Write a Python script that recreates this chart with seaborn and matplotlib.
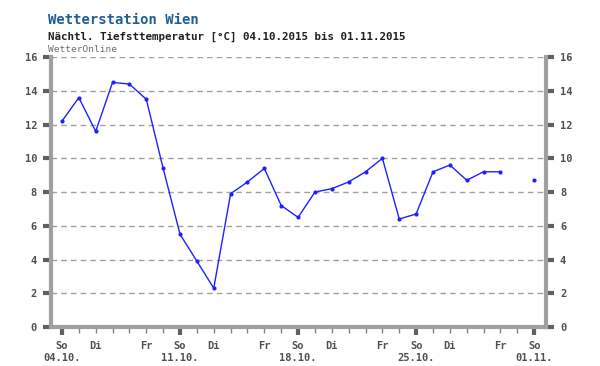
import numpy as np
import pandas as pd
import matplotlib
matplotlib.use("Agg")
import matplotlib.pyplot as plt
import seaborn as sns

# Nightly minimum temperature, Wien, 04.10.2015 - 01.11.2015 (day 27 missing)
days = list(range(29))
temps = [12.2, 13.6, 11.6, 14.5, 14.4, 13.5, 9.4,
         5.5, 3.9, 2.3, 7.9, 8.6, 9.4, 7.2,
         6.5, 8.0, 8.2, 8.6, 9.2, 10.0, 6.4,
         6.7, 9.2, 9.6, 8.7, 9.2, 9.2, np.nan,
         8.7]
weekday_labels = {2: "Di", 5: "Fr", 9: "Di", 12: "Fr", 16: "Di", 19: "Fr",
                  23: "Di", 26: "Fr"}
sunday_days = [0, 7, 14, 21, 28]
sunday_labels = ["So\n04.10.", "So\n11.10.", "So\n18.10.", "So\n25.10.", "So\n01.11."]
y_ticks = list(range(0, 17, 2))

title = "Wetterstation Wien"
subtitle = "Nächtl. Tiefsttemperatur [°C] 04.10.2015 bis 01.11.2015"
source = "WetterOnline"

# -----------------------------
# DATA FRAME (split at the gap)
# -----------------------------
df = pd.DataFrame({"day": days, "temp": temps})
df["seg"] = df["temp"].isna().cumsum()
df = df.dropna()

sns.set_style("white")
plt.rcParams["font.family"] = ["DejaVu Sans Mono", "DejaVu Sans"]

fig = plt.figure(figsize=(6, 3.66), dpi=100)
ax = fig.add_axes([0.085, 0.1066, 0.825, 0.7374])

grey = "#a0a0a0"
for y in y_ticks[1:]:
    ax.axhline(y, color=grey, lw=1, ls=(0, (4, 3)), zorder=0)

sns.lineplot(data=df, x="day", y="temp", units="seg", estimator=None,
             color="#2020ff", lw=1, marker="o", markersize=3,
             markeredgewidth=0, ax=ax)

ax.set_xlim(-0.65, 28.7)
ax.set_ylim(0, 16)
ax.set_xlabel("")
ax.set_ylabel("")

# spines
for side in ["left", "right", "bottom"]:
    ax.spines[side].set_visible(True)
    ax.spines[side].set_color(grey)
    ax.spines[side].set_linewidth(3)
ax.spines["top"].set_visible(False)

# y ticks on both sides
ax.set_yticks(y_ticks)
ax.set_yticklabels([str(v) for v in y_ticks])
ax.tick_params(axis="y", which="major", left=True, right=True,
               labelleft=True, labelright=True, direction="out",
               length=6, width=3, color="#606060", pad=4,
               labelsize=7.5, labelcolor="#505050")

# x ticks: Sundays major, every day minor
ax.set_xticks(sunday_days)
ax.set_xticklabels(sunday_labels)
ax.set_xticks(days, minor=True)
ax.set_xticklabels([weekday_labels.get(d, "") for d in days], minor=True)
ax.tick_params(axis="x", which="major", bottom=True, direction="out",
               length=6, width=3, color="#606060", pad=4,
               labelsize=7.5, labelcolor="#505050")
ax.tick_params(axis="x", which="minor", bottom=True, direction="out",
               length=4, width=1, color="#808080", pad=6,
               labelsize=7.5, labelcolor="#505050")
for lab in ax.get_xticklabels() + ax.get_xticklabels(minor=True) + ax.get_yticklabels():
    lab.set_fontweight("bold")
for lab in ax.get_xticklabels():
    lab.set_linespacing(1.3)

# titles
fig.text(0.08, 0.945, title, fontsize=10, fontweight="bold",
         color="#1f5f95", va="center")
fig.text(0.08, 0.9, subtitle, fontsize=7.8, fontweight="bold",
         color="#202020", va="center")
fig.text(0.08, 0.865, source, fontsize=6.8, color="#707070", va="center")

fig.savefig("out.png", dpi=100, facecolor="white")
